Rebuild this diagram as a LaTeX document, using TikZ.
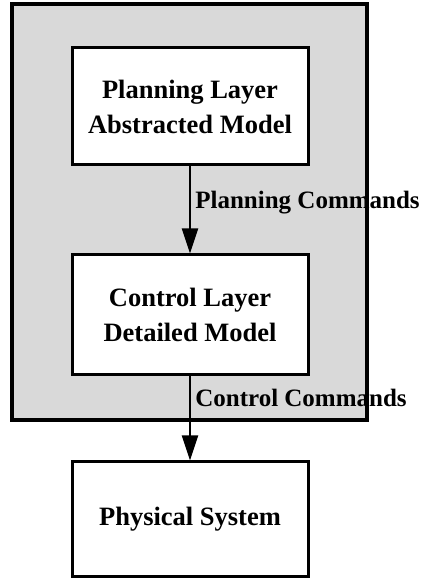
\documentclass[tikz,border=0pt]{standalone}
\usepackage{fontspec}
\setmainfont{Liberation Serif}
\usetikzlibrary{arrows.meta,positioning}
\tikzset{layer/.style={draw,line width=3pt,fill=white,minimum width=236pt,align=center,font=\bfseries\fontsize{26.5}{35}\selectfont}}
\begin{document}
\begin{tikzpicture}[x=1pt,y=1pt,font=\bfseries\fontsize{25}{35}\selectfont,>={Triangle[length=25pt,width=16pt]}]
	\useasboundingbox (0,0) rectangle (427,578);
	\draw[line width=3.5pt,fill=black!15] (12,158) rectangle (367,574);
	\node[layer,minimum height=117pt] (plan) at (190,471.5) {Planning Layer\\Abstracted Model};
	\node[layer,minimum height=120pt] (ctrl) at (190,263) {Control Layer\\Detailed Model};
	\node[layer,minimum height=115pt] (phys) at (190,58.5) {Physical System};
	\draw[->,line width=2pt] (plan)--(ctrl) node[pos=0.42,right=1pt]{Planning Commands};
	\draw[->,line width=2pt] (ctrl)--(phys) node[pos=0.25,right=1pt]{Control Commands};
\end{tikzpicture}
\end{document}
